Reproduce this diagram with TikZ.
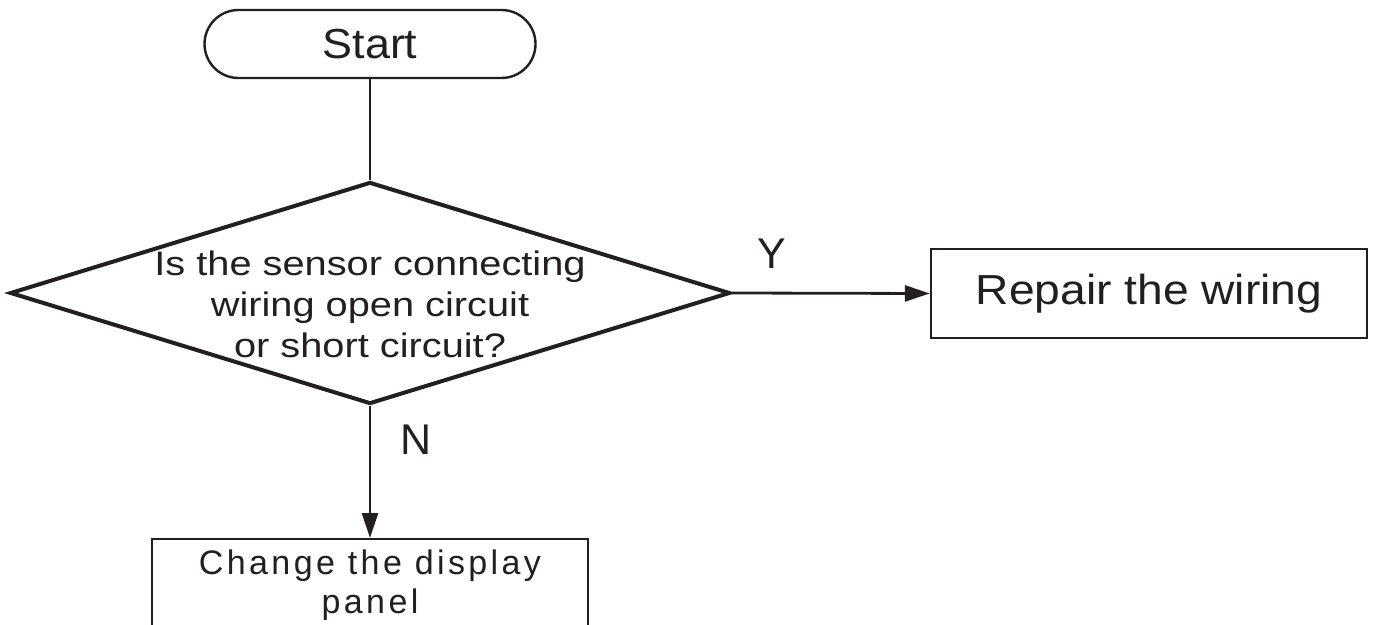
\documentclass[tikz,border=0pt]{standalone}
\usepackage{fontspec}
\setmainfont{Liberation Sans}
\newfontfamily\startfont[FakeStretch=1.07]{Liberation Sans}
\newfontfamily\askfont[FakeStretch=1.17]{Liberation Sans}
\newfontfamily\fixfont[FakeStretch=1.1]{Liberation Sans}
\newfontfamily\panelfont[LetterSpace=10]{Liberation Sans}
\usetikzlibrary{arrows.meta, shapes.geometric}
\usepackage{xcolor}
\definecolor{inkblack}{RGB}{35,31,32}

\begin{document}
\begin{tikzpicture}[x=0.5pt, y=-0.5pt,
  every node/.style={text=inkblack},
  flowline/.style={draw=inkblack, line width=1.4pt},
  flowarrow/.style={flowline, -{Triangle[length=12.5pt, width=8pt]}},
  boxnode/.style={draw=inkblack, line width=1.2pt, inner sep=0pt},
  tag/.style={inner sep=0pt, font=\fontsize{21.5pt}{24pt}\selectfont}]
  \useasboundingbox (0,0) rectangle (1375,625);
  \clip (0,0) rectangle (1375,625);

  % Start
  \node[boxnode, rounded corners=17pt, minimum width=165.5pt, minimum height=34pt,
    font=\startfont\fontsize{21pt}{24pt}\selectfont] (start) at (370,44) {Start};

  % Decision: wiring fault?
  \node[draw=inkblack, line width=2pt, diamond, inner sep=0pt,
    minimum width=360pt, minimum height=111pt] (check) at (370,293) {};
  \node[align=center, font=\askfont\fontsize{17pt}{20.5pt}\selectfont]
    (asktext) at (370,304.5) {Is the sensor connecting\\wiring open circuit\\or short circuit?};

  % Y branch
  \node[boxnode, minimum width=218pt, minimum height=44.5pt,
    font=\fixfont\fontsize{21pt}{24pt}\selectfont] (repair) at (1149,293.5) {Repair the wiring};

  % N branch
  \node[boxnode, anchor=north, minimum width=218pt, inner ysep=5.5pt, align=center,
    font=\panelfont\fontsize{17pt}{19.5pt}\selectfont] (panel) at (370,538) {Change the display\\panel};

  % Connectors
  \draw[flowline] (start.south) -- (check.north);
  \draw[flowarrow] (check.east) -- node[tag, pos=0.2, above=11.5pt] (ytag) {Y} (repair.west);
  \draw[flowarrow] (check.south) -- node[tag, pos=0.257, right=14.5pt] (ntag) {N} (panel.north);

\end{tikzpicture}
\end{document}
